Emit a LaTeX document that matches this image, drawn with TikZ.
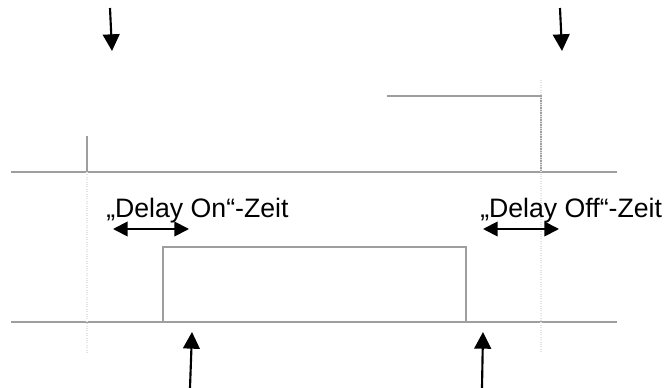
\documentclass[tikz,border=0pt]{standalone}
\usepackage{fontspec}
\setmainfont{Liberation Sans}
\usetikzlibrary{arrows.meta}
\tikzset{
  sig/.style={draw=black!38, line width=1.1pt},
  guide/.style={draw=black!11, densely dotted, line width=0.8pt},
  ptr/.style={line width=1.6pt, -{Triangle[length=12.5pt,width=12.5pt]}},
  span/.style={line width=1.4pt, {Triangle[length=11pt,width=11pt]}-{Triangle[length=11pt,width=11pt]}},
  lbl/.style={font=\fontsize{20}{24}\selectfont, inner sep=0pt}}

\begin{document}
\begin{tikzpicture}[x=0.75pt,y=-0.75pt]
\useasboundingbox (0,0) rectangle (665,388);
% upper signal
\coordinate (ua) at (11,172);
\coordinate (ub) at (617,172);
\coordinate (uc) at (87,136);
\coordinate (ud) at (87,172);
\coordinate (ue) at (387,96);
\coordinate (uf) at (541,96);
\coordinate (ug) at (541,172);
\draw [sig] (ua) -- (ub);
\draw [sig] (uc) -- (ud);
\draw [sig] (ue) -- (uf) -- (ug);
% lower signal
\coordinate (la) at (11,322);
\coordinate (lb) at (617,322);
\coordinate (lc) at (163,322);
\coordinate (ld) at (163,247);
\coordinate (le) at (466,247);
\coordinate (lf) at (466,322);
\draw [sig] (la) -- (lb);
\draw [sig] (lc) -- (ld) -- (le) -- (lf);
% guides
\coordinate (ga) at (87,353);
\coordinate (gb) at (541,80);
\coordinate (gc) at (541,353);
\draw [guide] (ud) -- (ga);
\draw [guide] (gb) -- (gc);
% labels
\node [lbl, anchor=base west] (onlbl) at (106,218) {„Delay On“-Zeit};
\node [lbl, anchor=base west] (offlbl) at (480,218) {„Delay Off“-Zeit};
% spans
\coordinate (sa) at (113,229);
\coordinate (sb) at (189,229);
\coordinate (sc) at (483,229);
\coordinate (sd) at (559,229);
\draw [span] (sa) -- (sb);
\draw [span] (sc) -- (sd);
% pointers
\coordinate (pa) at (110,8);
\coordinate (pb) at (112,51);
\coordinate (pc) at (560,8);
\coordinate (pd) at (562,51);
\coordinate (pe) at (190,388);
\coordinate (pf) at (192,332);
\coordinate (pg) at (482,388);
\coordinate (ph) at (483,332);
\draw [ptr] (pa) -- (pb);
\draw [ptr] (pc) -- (pd);
\draw [ptr] (pe) -- (pf);
\draw [ptr] (pg) -- (ph);
\end{tikzpicture}
\end{document}
